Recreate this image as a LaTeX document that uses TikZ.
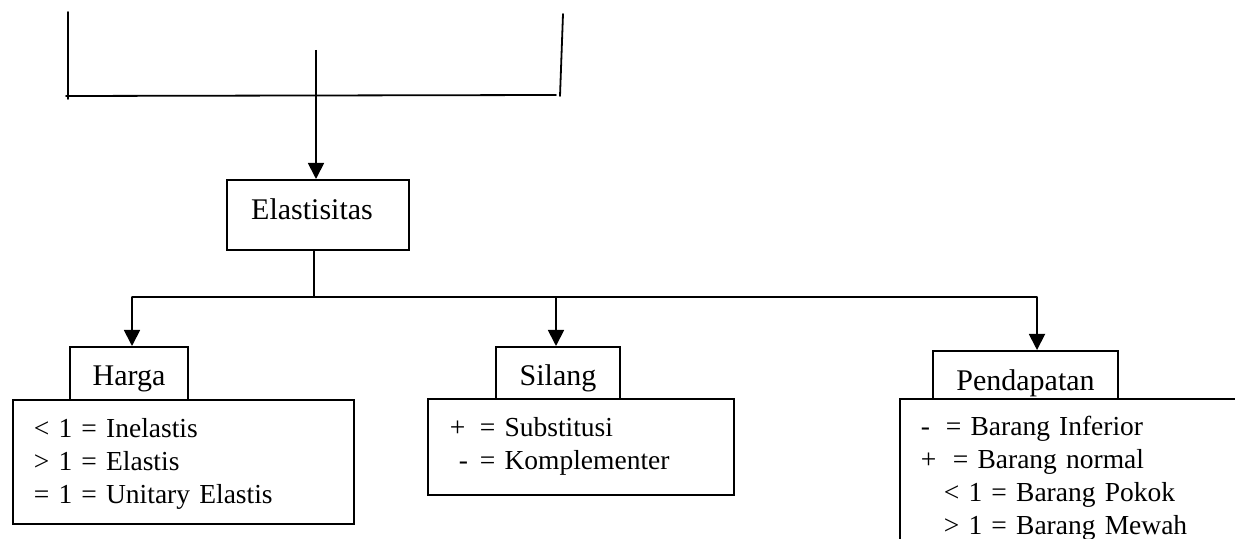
\documentclass[tikz,border=0pt]{standalone}
\usepackage{fontspec}
\setmainfont{Liberation Serif}
\usetikzlibrary{arrows.meta}
\begin{document}
\begin{tikzpicture}[x=0.5pt,y=-0.5pt,
  line/.style={line width=0.9pt, line cap=round},
  arr/.style={line width=0.9pt, -{Triangle[length=8pt,width=8pt]}},
  headbox/.style={draw, line width=0.9pt, anchor=north, inner xsep=0pt, inner ysep=0pt,
     font=\fontsize{15}{18}\selectfont},
  listbox/.style={draw, line width=0.9pt, anchor=north west, align=left, inner ysep=0pt,
     font=\fontsize{13.75}{16.5}\selectfont}]
\useasboundingbox (0,0) rectangle (1235,539);

% top bracket
\coordinate (tl1) at (68,12);
\coordinate (tl2) at (68,99);
\coordinate (hb1) at (66,96);
\coordinate (hb2) at (556,95);
\coordinate (tr1) at (563,14);
\coordinate (tr2) at (560,96);
\coordinate (tm) at (316,50);
\draw[line] (tl1) -- (tl2);
\draw[line] (hb1) -- (hb2);
\draw[line] (tr1) -- (tr2);

% Elastisitas
\node[headbox, minimum width=91pt, text height=20pt, text depth=15pt] (elast) at (318,179) {\hspace{-6pt}Elastisitas};
\draw[arr] (tm) -- (tm |- elast.north);

% lower boxes
\node[listbox, inner xsep=10.5pt, text width=149.5pt, text height=19pt, text depth=43pt] (hargaList) at (12,399)
  {< 1 = Inelastis\\> 1 = Elastis\\= 1 = Unitary Elastis};
\node[listbox, inner xsep=11pt, text width=131pt, text height=19pt, text depth=29pt] (silangList) at (427,398)
  {\makebox[15pt][l]{+}= Substitusi\\\makebox[15pt][l]{\hspace{4.5pt}-}= Komplementer};
\node[listbox, inner xsep=10.5pt, text width=179.5pt, text height=18.5pt, text depth=75pt] (pendList) at (899,398)
  {\makebox[12.5pt][l]{-}= Barang Inferior\\\makebox[16pt][l]{+}= Barang normal\\\hspace{11.5pt}< 1 = Barang Pokok\\\hspace{11.5pt}> 1 = Barang Mewah};

% header boxes
\node[headbox, minimum width=59pt, text height=19.5pt, text depth=7pt] (harga) at (129,346) {Harga};
\node[headbox, minimum width=62pt, text height=19.5pt, text depth=6.5pt] (silang) at (558,346) {Silang};
\node[headbox, minimum width=92.5pt, text height=20pt, text depth=4pt] (pend) at (1025.5,350) {Pendapatan};

% distribution bar
\coordinate (bj) at (314,297);
\coordinate (bl) at (132,297);
\coordinate (bm) at (556,297);
\coordinate (br) at (1037,297);
\draw[line] (elast.south -| bj) -- (bj);
\draw[line] (bl) -- (br);
\draw[arr] (bl) -- (bl |- harga.north);
\draw[arr] (bm) -- (bm |- silang.north);
\draw[arr] (br) -- (br |- pend.north);
\end{tikzpicture}
\end{document}
